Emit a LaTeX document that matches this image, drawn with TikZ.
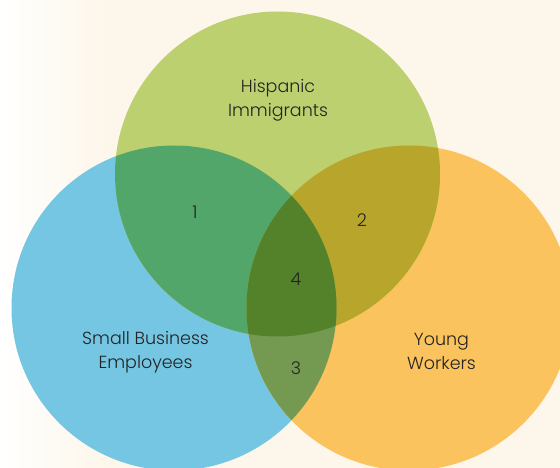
\documentclass[tikz,border=0pt]{standalone}
\usepackage{fontspec}
\IfFontExistsTF{Poppins Light}{\setmainfont{Poppins Light}}{\setmainfont{Poppins}}
\begin{document}
\begin{tikzpicture}[x=1pt,y=-1pt,
  lbl/.style={align=center,inner sep=0pt,text=txtc,font=\fontsize{17.5}{24}\selectfont},
  num/.style={inner sep=0pt,text=txtc,font=\fontsize{17.5}{24}\selectfont}]
\definecolor{bgc}{RGB}{253,246,234}
\definecolor{bluec}{RGB}{116,198,226}
\definecolor{greenc}{RGB}{189,208,111}
\definecolor{orangec}{RGB}{251,195,93}
\definecolor{bgo}{RGB}{83,166,106}
\definecolor{goo}{RGB}{183,165,44}
\definecolor{boo}{RGB}{116,154,82}
\definecolor{ctr}{RGB}{83,130,42}
\definecolor{txtc}{RGB}{35,35,35}
\def\R{162.5}
\def\blueC{(174,308) circle (\R)}
\def\greenC{(277.5,174) circle (\R)}
\def\orangeC{(409,308) circle (\R)}
\useasboundingbox (0,0) rectangle (560,468);
\begin{scope}
\clip (0,0) rectangle (560,468);
\fill[bgc] (0,0) rectangle (560,468);
\shade[left color=white,right color=bgc] (0,0) rectangle (110,468);
\fill[bluec] \blueC;
\fill[orangec] \orangeC;
\fill[greenc] \greenC;
\begin{scope}\clip \blueC; \fill[bgo] \greenC; \end{scope}
\begin{scope}\clip \greenC; \fill[goo] \orangeC; \end{scope}
\begin{scope}\clip \blueC; \fill[boo] \orangeC; \end{scope}
\begin{scope}\clip \blueC; \clip \greenC; \fill[ctr] \orangeC; \end{scope}
\end{scope}
\node[lbl] (hisp) at (278,100) {Hispanic\\Immigrants};
\node[lbl] (small) at (145.5,352) {Small Business\\Employees};
\node[lbl] (young) at (441.5,351.5) {Young\\Workers};
\node[num] (n1) at (195,212) {1};
\node[num] (n2) at (362,220) {2};
\node[num] (n4) at (296,279) {4};
\node[num] (n3) at (296,368) {3};
\end{tikzpicture}
\end{document}
